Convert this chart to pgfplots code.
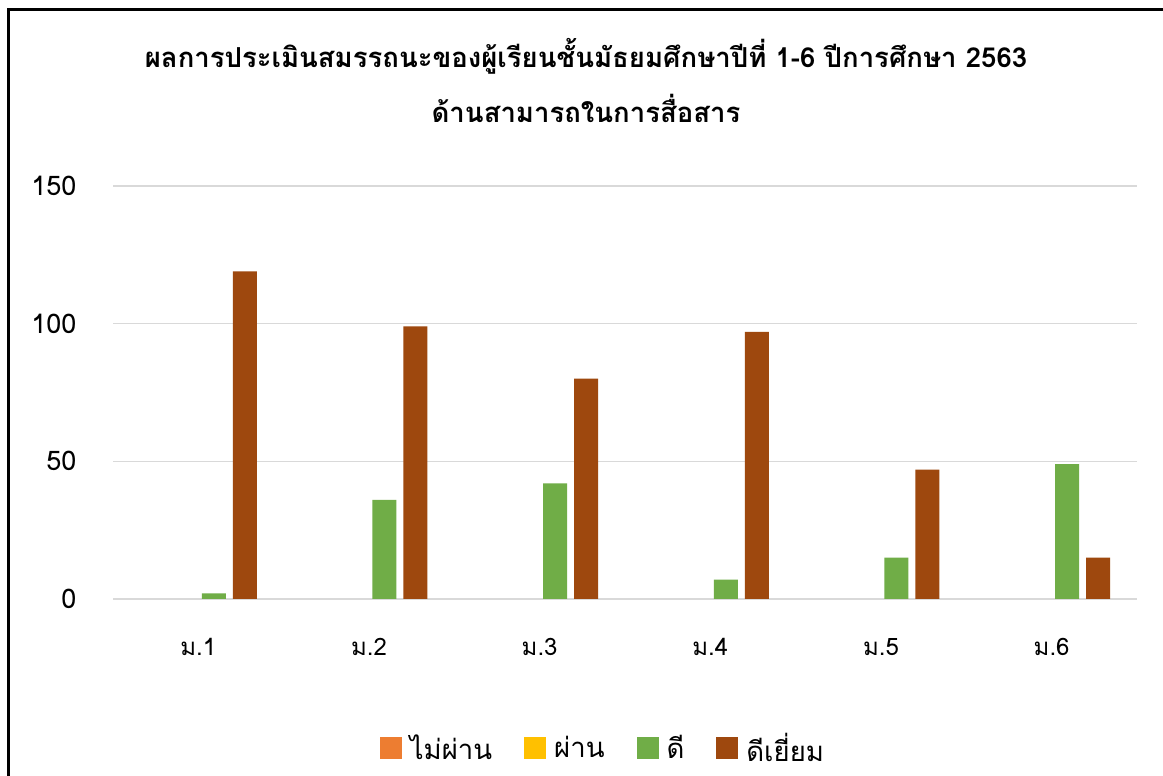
\documentclass[border=0pt]{standalone}
\usepackage{fontspec}
\setmainfont[Script=Thai]{Loma}
\usepackage{pgfplots}
\pgfplotsset{compat=1.18}
\definecolor{cOrange}{HTML}{ED7D31}
\definecolor{cYellow}{HTML}{FFC000}
\definecolor{cGreen}{HTML}{70AD47}
\definecolor{cBrown}{HTML}{9E480E}
\definecolor{cGrid}{HTML}{D9D9D9}
\begin{document}
\begin{tikzpicture}
\useasboundingbox (0,0) rectangle (1163bp,776bp);
\fill[white] (0,0) rectangle (1163bp,776bp);
\draw[line width=3bp,black] (8bp,0) -- (8bp,766bp) -- (1163bp,766bp);
\node[align=center,font=\fontsize{27.5bp}{55bp}\selectfont\bfseries] at (586bp,695bp)
  {ผลการประเมินสมรรถนะของผู้เรียนชั้นมัธยมศึกษาปีที่ 1-6 ปีการศึกษา 2563\\ด้านสามารถในการสื่อสาร};
\begin{axis}[
  at={(113bp,177bp)}, anchor=south west,
  scale only axis, width=1024bp, height=413bp,
  xmin=-0.5, xmax=5.5, ymin=0, ymax=150,
  ybar=7bp, bar width=24bp,
  axis line style={draw=none},
  ytick={0,50,100,150},
  xtick={0,1,2,3,4,5},
  xticklabels={ม.1,ม.2,ม.3,ม.4,ม.5,ม.6},
  major tick length=0pt,
  ymajorgrids, grid style={cGrid, line width=1.5bp},
  /pgf/number format/assume math mode=true,
  yticklabel style={font=\fontsize{27bp}{30bp}\selectfont, xshift=-33bp},
  xticklabel style={font=\fontsize{24bp}{28bp}\selectfont, yshift=-36bp},
  legend columns=4,
  legend style={draw=none, at={(0.4785,-0.361)}, anchor=center,
    font=\fontsize{27.5bp}{30bp}\selectfont,
    /tikz/every odd column/.append style={column sep=6bp},
    /tikz/every even column/.append style={column sep=30bp}},
  legend image code/.code={\fill[#1] (0bp,-11bp) rectangle (22bp,11bp);},
]
\addplot[fill=cOrange, draw=none] coordinates {(0,0) (1,0) (2,0) (3,0) (4,0) (5,0)};
\addplot[fill=cYellow, draw=none] coordinates {(0,0) (1,0) (2,0) (3,0) (4,0) (5,0)};
\addplot[fill=cGreen, draw=none] coordinates {(0,2) (1,36) (2,42) (3,7) (4,15) (5,49)};
\addplot[fill=cBrown, draw=none] coordinates {(0,119) (1,99) (2,80) (3,97) (4,47) (5,15)};
\legend{ไม่ผ่าน,ผ่าน,ดี,ดีเยี่ยม}
\end{axis}
\end{tikzpicture}
\end{document}
